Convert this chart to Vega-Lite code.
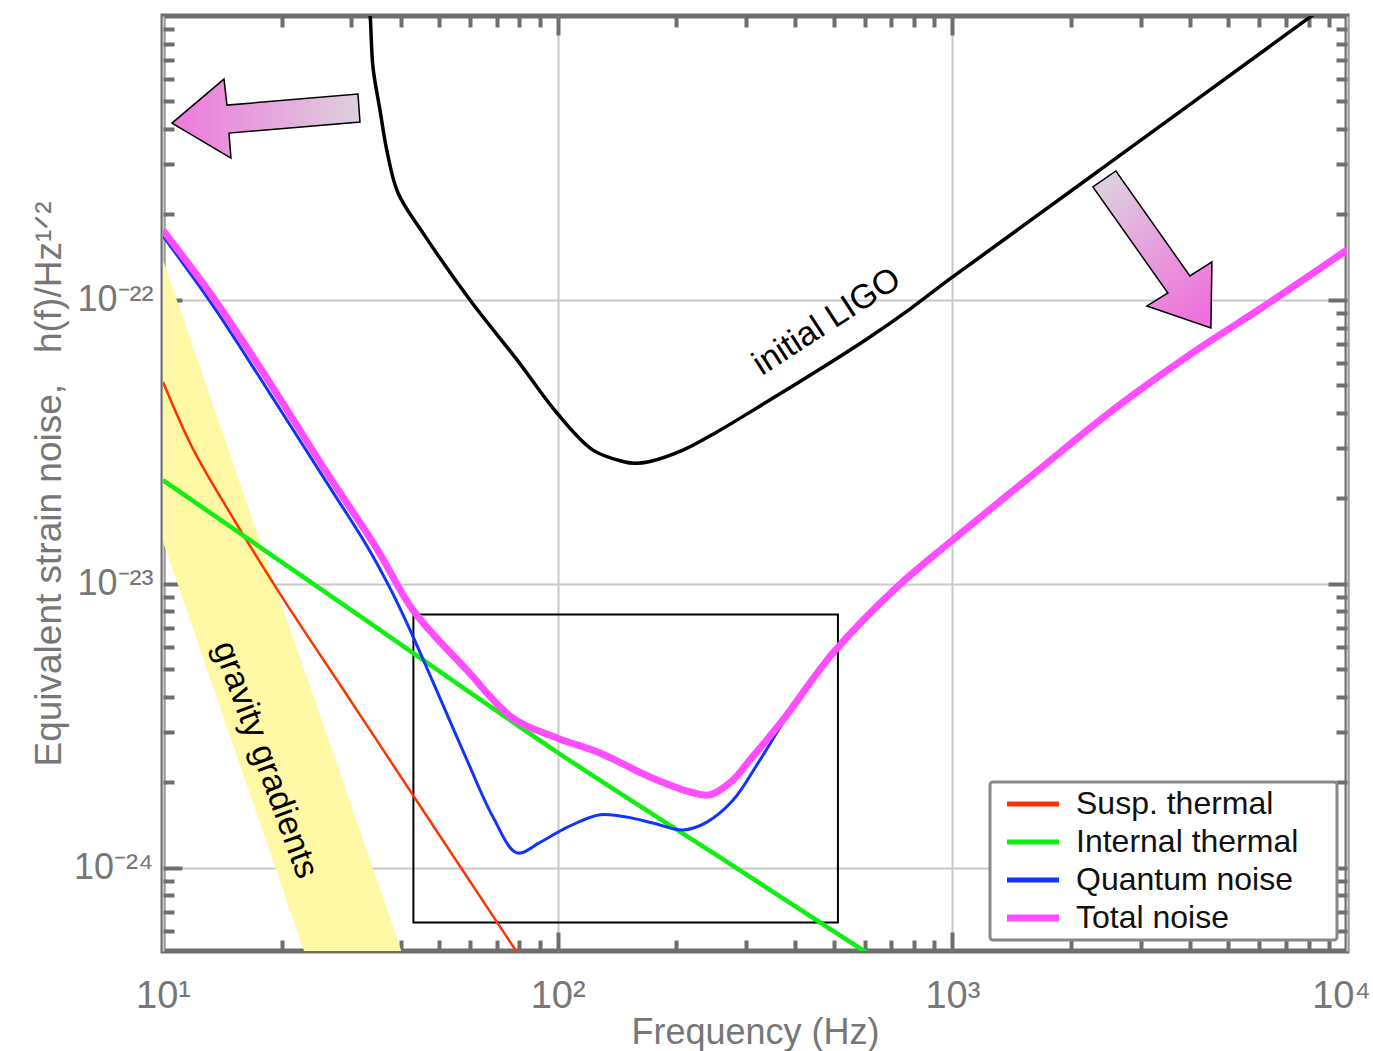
{
  "$schema": "https://vega.github.io/schema/vega-lite/v6.json",
  "width": 1184,
  "height": 935,
  "autosize": {"type": "none"},
  "padding": {"left": 163, "top": 16, "right": 26, "bottom": 100},
  "background": "white",
  "config": {
    "view": {"stroke": "#6e6e6e", "strokeWidth": 5},
    "font": "Liberation Sans"
  },
  "datasets": {
    "band": [
      {"f": 10, "upper": 1.38e-22, "lower": 1.41e-23},
      {"f": 50, "upper": 2.11e-25, "lower": 2.14e-26}
    ],
    "box": [
      {"x1": 43.1, "x2": 513, "y1": 6.42e-25, "y2": 7.8e-24}
    ],
    "curves": [
      {"series": "Susp. thermal", "f": 10, "h": 5.14e-23},
      {"series": "Susp. thermal", "f": 11.91, "h": 2.99e-23},
      {"series": "Susp. thermal", "f": 15, "h": 1.72e-23},
      {"series": "Susp. thermal", "f": 20, "h": 9.02e-24},
      {"series": "Susp. thermal", "f": 30, "h": 3.85e-24},
      {"series": "Susp. thermal", "f": 45, "h": 1.64e-24},
      {"series": "Susp. thermal", "f": 60, "h": 8.96e-25},
      {"series": "Susp. thermal", "f": 80, "h": 4.9e-25},
      {"series": "Internal thermal", "f": 10, "h": 2.32e-23},
      {"series": "Internal thermal", "f": 30, "h": 8.09e-24},
      {"series": "Internal thermal", "f": 100, "h": 2.55e-24},
      {"series": "Internal thermal", "f": 250, "h": 1.12e-24},
      {"series": "Internal thermal", "f": 600, "h": 5.08e-25},
      {"series": "Internal thermal", "f": 700, "h": 4.43e-25},
      {"series": "Quantum noise", "f": 10, "h": 1.68e-22},
      {"series": "Quantum noise", "f": 13.54, "h": 9.33e-23},
      {"series": "Quantum noise", "f": 18.67, "h": 4.68e-23},
      {"series": "Quantum noise", "f": 26.03, "h": 2.27e-23},
      {"series": "Quantum noise", "f": 32.87, "h": 1.36e-23},
      {"series": "Quantum noise", "f": 38.25, "h": 9.23e-24},
      {"series": "Quantum noise", "f": 43.0, "h": 6.53e-24},
      {"series": "Quantum noise", "f": 48.3, "h": 4.52e-24},
      {"series": "Quantum noise", "f": 58.9, "h": 2.4e-24},
      {"series": "Quantum noise", "f": 68.6, "h": 1.51e-24},
      {"series": "Quantum noise", "f": 78.9, "h": 1.13e-24},
      {"series": "Quantum noise", "f": 90.2, "h": 1.23e-24},
      {"series": "Quantum noise", "f": 105.6, "h": 1.39e-24},
      {"series": "Quantum noise", "f": 128, "h": 1.54e-24},
      {"series": "Quantum noise", "f": 149.8, "h": 1.51e-24},
      {"series": "Quantum noise", "f": 174.3, "h": 1.44e-24},
      {"series": "Quantum noise", "f": 207.7, "h": 1.36e-24},
      {"series": "Quantum noise", "f": 238.9, "h": 1.45e-24},
      {"series": "Quantum noise", "f": 278, "h": 1.73e-24},
      {"series": "Quantum noise", "f": 325.5, "h": 2.4e-24},
      {"series": "Quantum noise", "f": 381, "h": 3.4e-24},
      {"series": "Quantum noise", "f": 498, "h": 5.6e-24},
      {"series": "Quantum noise", "f": 724, "h": 9.6e-24},
      {"series": "Quantum noise", "f": 1003, "h": 1.41e-23},
      {"series": "Quantum noise", "f": 1573, "h": 2.35e-23},
      {"series": "Quantum noise", "f": 2553, "h": 4.05e-23},
      {"series": "Quantum noise", "f": 4166, "h": 6.6e-23},
      {"series": "Quantum noise", "f": 6122, "h": 9.35e-23},
      {"series": "Quantum noise", "f": 10000, "h": 1.48e-22},
      {"series": "Total noise", "f": 10, "h": 1.76e-22},
      {"series": "Total noise", "f": 13.54, "h": 1.0e-22},
      {"series": "Total noise", "f": 18.67, "h": 5.1e-23},
      {"series": "Total noise", "f": 26.03, "h": 2.46e-23},
      {"series": "Total noise", "f": 34.85, "h": 1.33e-23},
      {"series": "Total noise", "f": 43.0, "h": 8.09e-24},
      {"series": "Total noise", "f": 58.9, "h": 4.97e-24},
      {"series": "Total noise", "f": 77.0, "h": 3.37e-24},
      {"series": "Total noise", "f": 99.6, "h": 2.87e-24},
      {"series": "Total noise", "f": 128, "h": 2.54e-24},
      {"series": "Total noise", "f": 171.3, "h": 2.09e-24},
      {"series": "Total noise", "f": 220.2, "h": 1.84e-24},
      {"series": "Total noise", "f": 243.2, "h": 1.81e-24},
      {"series": "Total noise", "f": 278, "h": 2.04e-24},
      {"series": "Total noise", "f": 307, "h": 2.4e-24},
      {"series": "Total noise", "f": 372.3, "h": 3.32e-24},
      {"series": "Total noise", "f": 498.3, "h": 5.71e-24},
      {"series": "Total noise", "f": 724, "h": 9.75e-24},
      {"series": "Total noise", "f": 1003, "h": 1.43e-23},
      {"series": "Total noise", "f": 1573, "h": 2.38e-23},
      {"series": "Total noise", "f": 2553, "h": 4.1e-23},
      {"series": "Total noise", "f": 4166, "h": 6.67e-23},
      {"series": "Total noise", "f": 6122, "h": 9.45e-23},
      {"series": "Total noise", "f": 10000, "h": 1.5e-22}
    ],
    "ligo": [
      {"f": 33.0, "h": 1.2e-21},
      {"f": 33.5, "h": 9.91e-22},
      {"f": 34.04, "h": 6.61e-22},
      {"f": 35.46, "h": 4.67e-22},
      {"f": 36.9, "h": 3.37e-22},
      {"f": 39.4, "h": 2.38e-22},
      {"f": 45.6, "h": 1.72e-22},
      {"f": 59.95, "h": 1.0e-22},
      {"f": 78.9, "h": 6.15e-23},
      {"f": 99.6, "h": 4.0e-23},
      {"f": 122.9, "h": 2.96e-23},
      {"f": 146.3, "h": 2.7e-23},
      {"f": 157, "h": 2.66e-23},
      {"f": 171.3, "h": 2.7e-23},
      {"f": 207.7, "h": 2.96e-23},
      {"f": 253.3, "h": 3.43e-23},
      {"f": 339, "h": 4.38e-23},
      {"f": 453.8, "h": 5.62e-23},
      {"f": 607.6, "h": 7.29e-23},
      {"f": 780.9, "h": 9.29e-23},
      {"f": 985.9, "h": 1.186e-22},
      {"f": 1195, "h": 1.44e-22},
      {"f": 2366, "h": 2.87e-22},
      {"f": 8054, "h": 9.91e-22},
      {"f": 9000, "h": 1.11e-21}
    ],
    "notes": [
      {"f": 481, "h": 8.37e-23, "text": "initial LIGO", "angle": 327},
      {"f": 18.13, "h": 2.4e-24, "text": "gravity gradients", "angle": 70}
    ],
    "arrowLeft": [{"f": 18.13, "h": 4.3e-22}],
    "arrowRight": [{"f": 3357, "h": 1.5e-22}]
  },
  "resolve": {"axis": {"x": "independent", "y": "independent"}},
  "layer": [
    {
      "data": {"name": "band"},
      "mark": {"type": "area", "color": "#fff8a4", "clip": true, "interpolate": "linear"},
      "encoding": {
        "x": {
          "field": "f", "type": "quantitative",
          "scale": {"type": "log", "domain": [10, 10000], "nice": false},
          "axis": {
            "orient": "bottom", "values": [10, 100, 1000, 10000],
            "labelExpr": "datum.value == 10 ? '10¹' : datum.value == 100 ? '10²' : datum.value == 1000 ? '10³' : '10⁴'",
            "labelFont": "Liberation Sans", "labelFontSize": 38, "labelColor": "#777777",
            "labelBaseline": "alphabetic", "labelPadding": 56, "labelFlush": false, "labelOverlap": false,
            "labelOffset": {"condition": {"test": "datum.value == 10000", "value": -6}, "value": 0},
            "ticks": false, "domain": false,
            "grid": true, "gridColor": "#c8c8c8", "gridWidth": 2,
            "title": "Frequency (Hz)", "titleFont": "Liberation Sans", "titleFontSize": 36,
            "titleFontWeight": "normal", "titleColor": "#777777", "titleBaseline": "alphabetic", "titleY": 92
          }
        },
        "y": {
          "field": "upper", "type": "quantitative",
          "scale": {"type": "log", "domain": [5.1e-25, 1e-21], "nice": false},
          "axis": {
            "orient": "left", "values": [1e-24, 1e-23, 1e-22],
            "labelExpr": "datum.value < 5e-24 ? '10⁻²⁴' : datum.value < 5e-23 ? '10⁻²³' : '10⁻²²'",
            "labelFont": "Liberation Sans", "labelFontSize": 36, "labelColor": "#777777",
            "labelPadding": 10, "labelFlush": false, "labelOverlap": false,
            "ticks": false, "domain": false,
            "grid": true, "gridColor": "#c8c8c8", "gridWidth": 2,
            "title": "Equivalent strain noise,\u00a0\u00a0\u00a0h(f)/Hz¹ᐟ²", "titleFont": "Liberation Sans", "titleFontSize": 37,
            "titleFontWeight": "normal", "titleColor": "#777777", "titleBaseline": "alphabetic", "titleX": -103
          }
        },
        "y2": {"field": "lower"}
      }
    },
    {
      "data": {"name": "box"},
      "mark": {"type": "rect", "filled": false, "stroke": "black", "strokeWidth": 2},
      "encoding": {
        "x": {
          "field": "x1", "type": "quantitative",
          "axis": {
            "orient": "top", "labels": false, "grid": false, "domain": false, "title": null,
            "values": [20, 30, 40, 50, 60, 70, 80, 90, 100, 200, 300, 400, 500, 600, 700, 800, 900, 1000, 2000, 3000, 4000, 5000, 6000, 7000, 8000, 9000],
            "tickColor": "#6e6e6e", "tickWidth": 4,
            "tickSize": {"condition": {"test": "abs(log(datum.value)/LN10 - round(log(datum.value)/LN10)) < 0.01", "value": -19}, "value": -11}
          }
        },
        "x2": {"field": "x2"},
        "y": {
          "field": "y1", "type": "quantitative",
          "axis": {
            "orient": "right", "labels": false, "grid": false, "domain": false, "title": null,
            "values": [6e-25, 7e-25, 8e-25, 9e-25, 1e-24, 2e-24, 3e-24, 4e-24, 5e-24, 6e-24, 7e-24, 8e-24, 9e-24, 1e-23, 2e-23, 3e-23, 4e-23, 5e-23, 6e-23, 7e-23, 8e-23, 9e-23, 1e-22, 2e-22, 3e-22, 4e-22, 5e-22, 6e-22, 7e-22, 8e-22, 9e-22],
            "tickColor": "#6e6e6e", "tickWidth": 4,
            "tickSize": {"condition": {"test": "abs(log(datum.value)/LN10 - round(log(datum.value)/LN10)) < 0.01", "value": -19}, "value": -11}
          }
        },
        "y2": {"field": "y2"}
      }
    },
    {
      "data": {"name": "curves"},
      "mark": {"type": "line", "clip": true, "interpolate": "catmull-rom"},
      "encoding": {
        "x": {
          "field": "f", "type": "quantitative",
          "axis": {
            "orient": "bottom", "labels": false, "grid": false, "domain": false, "title": null,
            "values": [20, 30, 40, 50, 60, 70, 80, 90, 100, 200, 300, 400, 500, 600, 700, 800, 900, 1000, 2000, 3000, 4000, 5000, 6000, 7000, 8000, 9000],
            "tickColor": "#6e6e6e", "tickWidth": 4,
            "tickSize": {"condition": {"test": "abs(log(datum.value)/LN10 - round(log(datum.value)/LN10)) < 0.01", "value": -19}, "value": -11}
          }
        },
        "y": {
          "field": "h", "type": "quantitative",
          "axis": {
            "orient": "left", "labels": false, "grid": false, "domain": false, "title": null,
            "values": [6e-25, 7e-25, 8e-25, 9e-25, 1e-24, 2e-24, 3e-24, 4e-24, 5e-24, 6e-24, 7e-24, 8e-24, 9e-24, 1e-23, 2e-23, 3e-23, 4e-23, 5e-23, 6e-23, 7e-23, 8e-23, 9e-23, 1e-22, 2e-22, 3e-22, 4e-22, 5e-22, 6e-22, 7e-22, 8e-22, 9e-22],
            "tickColor": "#6e6e6e", "tickWidth": 4,
            "tickSize": {"condition": {"test": "abs(log(datum.value)/LN10 - round(log(datum.value)/LN10)) < 0.01", "value": -19}, "value": -11}
          }
        },
        "color": {
          "field": "series", "type": "nominal",
          "scale": {
            "domain": ["Susp. thermal", "Internal thermal", "Quantum noise", "Total noise"],
            "range": ["#ff3300", "#11ee11", "#1133ff", "#ff4dff"]
          },
          "legend": {
            "orient": "none", "legendX": 827, "legendY": 766, "title": null,
            "labelFont": "Liberation Sans", "labelFontSize": 32, "labelColor": "#111111", "labelLimit": 600,
            "labelExpr": "datum.label + '\u00a0\u2800'",
            "symbolType": "M-2.6,0L2.6,0", "symbolSize": 400, "symbolStrokeWidth": 5,
            "symbolOffset": 21, "labelOffset": 27, "rowPadding": 6, "padding": 6,
            "strokeColor": "#888888", "fillColor": "white", "cornerRadius": 3,
            "encode": {
              "legend": {"update": {"strokeWidth": {"value": 3}}},
              "symbols": {"update": {"strokeWidth": {"signal": "datum.value === 'Total noise' ? 7 : 5"}}}
            }
          }
        },
        "strokeWidth": {
          "condition": [
            {"test": "datum.series === 'Total noise'", "value": 7},
            {"test": "datum.series === 'Internal thermal'", "value": 4.5},
            {"test": "datum.series === 'Quantum noise'", "value": 3}
          ],
          "value": 2.5
        }
      }
    },
    {
      "data": {"name": "ligo"},
      "mark": {"type": "line", "clip": true, "interpolate": "catmull-rom", "color": "black", "strokeWidth": 3.5},
      "encoding": {
        "x": {"field": "f", "type": "quantitative", "axis": null},
        "y": {"field": "h", "type": "quantitative", "axis": null}
      }
    },
    {
      "data": {"name": "notes"},
      "mark": {"type": "text", "font": "Liberation Sans", "fontSize": 34, "color": "black", "align": "center", "baseline": "middle"},
      "encoding": {
        "x": {"field": "f", "type": "quantitative", "axis": null},
        "y": {"field": "h", "type": "quantitative", "axis": null},
        "text": {"field": "text"},
        "angle": {"field": "angle", "type": "quantitative", "scale": null}
      }
    },
    {
      "data": {"name": "arrowLeft"},
      "mark": {
        "type": "point", "shape": "M-93,3L-41,-41L-38,-15L93,-26L95,2L-36,13L-34,38Z", "size": 4,
        "filled": true, "opacity": 1, "stroke": "black", "strokeWidth": 1.5,
        "fill": {"gradient": "linear", "x1": 0, "y1": 0, "x2": 1, "y2": 0,
          "stops": [{"offset": 0, "color": "#ef78dc"}, {"offset": 1, "color": "#ddd0de"}]}
      },
      "encoding": {
        "x": {"field": "f", "type": "quantitative", "axis": null},
        "y": {"field": "h", "type": "quantitative", "axis": null}
      }
    },
    {
      "data": {"name": "arrowRight"},
      "mark": {
        "type": "point", "shape": "M-67,-63L-44,-79L30,26L52,12L51,78L-13,56L8,43Z", "size": 4,
        "filled": true, "opacity": 1, "stroke": "black", "strokeWidth": 1.5,
        "fill": {"gradient": "linear", "x1": 0.2, "y1": 0, "x2": 0.8, "y2": 1,
          "stops": [{"offset": 0, "color": "#ddd0de"}, {"offset": 1, "color": "#ef70dc"}]}
      },
      "encoding": {
        "x": {"field": "f", "type": "quantitative", "axis": null},
        "y": {"field": "h", "type": "quantitative", "axis": null}
      }
    }
  ]
}
